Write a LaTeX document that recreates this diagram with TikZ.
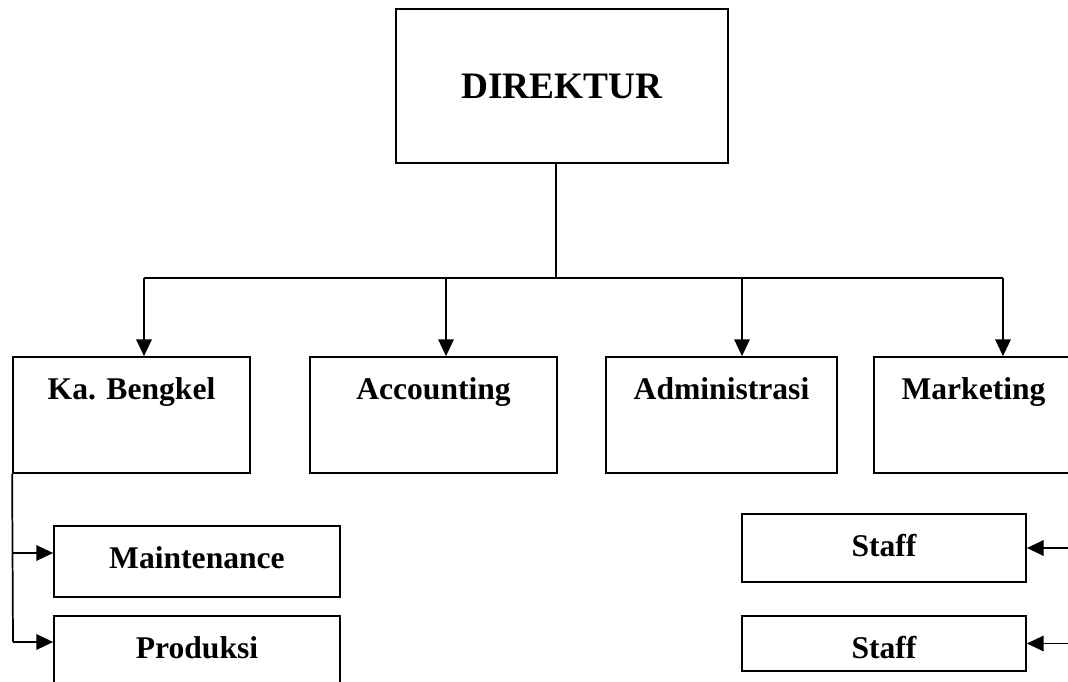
\documentclass[tikz,border=0pt]{standalone}
\usepackage{fontspec}
\setmainfont{Liberation Serif}
\usetikzlibrary{arrows.meta,positioning}

\begin{document}
\begin{tikzpicture}[x=0.75pt,y=-0.75pt,line width=1.3pt,
    unit/.style={draw,inner sep=0pt,minimum height=87pt},
    sub/.style={draw,inner sep=0pt,minimum width=214.5pt,minimum height=53.25pt},
    lbl/.style={anchor=north,inner sep=0pt,yshift=-15.5pt,font=\fontsize{23.7}{28}\selectfont\bfseries},
    arr/.style={-{Triangle[length=12.5pt,width=11.5pt]}}]
    \useasboundingbox (0,0) rectangle (1068,682);
    \clip (0,0) rectangle (1068,682);
            \node[draw,inner sep=0pt,minimum width=249pt,minimum height=115.5pt,font=\fontsize{28}{32}\selectfont\bfseries] (direktur) at (562,86) {DIREKTUR};
            \node[unit,minimum width=177.75pt,label={[lbl]north:Ka. Bengkel}] (bengkel) at (131.5,415) {};
            \node[unit,minimum width=185.25pt,label={[lbl]north:Accounting}] (accounting) at (433.5,415) {};
            \node[unit,minimum width=173.25pt,label={[lbl]north:Administrasi}] (admin) at (721.5,415) {};
            \node[unit,minimum width=149.25pt,label={[lbl]north:Marketing}] (marketing) at (973.5,415) {};
            \node[sub,label={[lbl]north:Maintenance}] (maint) at (197,561.5) {};
            \node[sub,label={[lbl]north:Produksi}] (produksi) at (197,651.5) {};
            \node[sub,minimum width=213pt,minimum height=51pt,label={[lbl]north:Staff}] (staffa) at (884,548) {};
            \node[sub,minimum width=213pt,minimum height=41.25pt,label={[lbl]north:Staff}] (staffb) at (884,643.5) {};
            \coordinate (hub) at (556,278);
            \coordinate (jb) at (144,278);
            \coordinate (ja) at (446,278);
            \coordinate (jd) at (742,278);
            \coordinate (jm) at (1003,278);
            \coordinate (km) at (13,553);
            \coordinate (kp) at (13,642);
            \draw (direktur.south -| hub) -- (hub);
            \draw (jb) -- (jm);
            \draw[arr] (jb) -- (jb |- bengkel.north);
            \draw[arr] (ja) -- (ja |- accounting.north);
            \draw[arr] (jd) -- (jd |- admin.north);
            \draw[arr] (jm) -- (jm |- marketing.north);
            \draw (bengkel.south west) -- (kp);
            \draw[arr] (km) -- (km -| maint.west);
            \draw[arr] (kp) -- (kp -| produksi.west);
            \draw[arr] (marketing.south east) |- (staffa.east);
            \draw[arr] (marketing.south east) |- (staffb.east);
        \end{tikzpicture}
\end{document}
